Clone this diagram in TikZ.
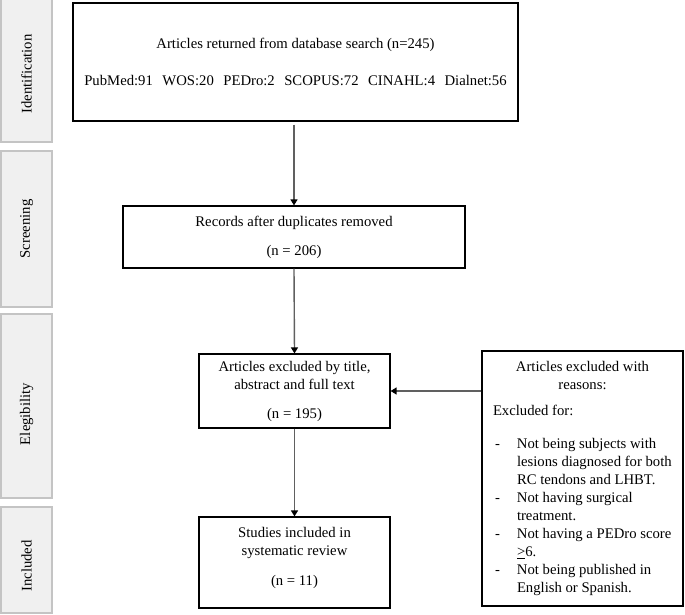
\documentclass[tikz,border=0pt]{standalone}
\usepackage{fontspec}
\setmainfont{Liberation Serif}
\usetikzlibrary{arrows.meta}
\definecolor{sidefill}{HTML}{F0F0F0}
\definecolor{sidedraw}{HTML}{C4C4C4}
\definecolor{arrowgray}{HTML}{606060}
\newcommand{\dashline}[1]{\hspace*{2pt}\makebox[22pt][l]{-}#1}
\newcommand{\contline}[1]{\hspace*{24pt}#1}
\newcommand{\gapsp}{\hspace{9.5pt}}
\begin{document}
\begin{tikzpicture}[x=1pt,y=-1pt,
  every node/.style={font=\fontsize{14.7}{18}\selectfont},
  sidebox/.style={draw=sidedraw, fill=sidefill, line width=1.5pt},
  sidelabel/.style={rotate=90, inner sep=0pt},
  flowbox/.style={draw=black, line width=1.2pt, align=center, inner sep=0pt},
  flowarrow/.style={draw=arrowgray, line width=1.4pt, -{Triangle[length=6pt,width=7pt,black]}}]
\useasboundingbox (0,0) rectangle (685,614);
% side phase boxes
\path[sidebox] (1,-5) rectangle (52,142);
\path[sidebox] (1,151) rectangle (52,307);
\path[sidebox] (1,314) rectangle (52,498);
\path[sidebox] (1,507) rectangle (52,613);
\node[sidelabel] (lident) at (26.5,74) {Identification};
\node[sidelabel] (lscreen) at (26.5,229) {Screening};
\node[sidelabel] (lelig) at (26.5,414) {Elegibility};
\node[sidelabel] (lincl) at (26.5,566) {Included};
% flow boxes
\node[flowbox, minimum width=445pt, minimum height=118pt] (search) at (295.5,62)
  {Articles returned from database search (n=245)\\[19pt]
   PubMed:91\gapsp WOS:20\gapsp PEDro:2\gapsp SCOPUS:72\gapsp CINAHL:4\gapsp Dialnet:56};
\node[flowbox, minimum width=342pt, minimum height=62pt] (records) at (294,237)
  {Records after duplicates removed\\[11pt](n = 206)};
\node[flowbox, minimum width=191pt, minimum height=74pt] (excluded) at (294.5,391)
  {Articles excluded by title,\\abstract and full text\\[11pt](n = 195)};
\node[flowbox, minimum width=191pt, minimum height=91pt] (included) at (294.5,562.5)
  {Studies included in\\systematic review\\[12pt](n = 11)\rule[-12pt]{0pt}{12pt}};
\node[draw=black, line width=1.2pt, minimum width=201pt, minimum height=255pt,
      align=left, inner sep=0pt] (reasons) at (582.5,478.5)
  {\makebox[179pt]{Articles excluded with}\\
   \makebox[179pt]{reasons:}\\[8pt]
   Excluded for:\\[15pt]
   \dashline{Not being subjects with}\\
   \contline{lesions diagnosed for both}\\
   \contline{RC tendons and LHBT.}\\
   \dashline{Not having surgical}\\
   \contline{treatment.}\\
   \dashline{Not having a PEDro score}\\
   \contline{\underline{>}6.}\\
   \dashline{Not being published in}\\
   \contline{English or Spanish.}};
% connectors
\draw[flowarrow, shorten <=3pt] (records.north |- search.south) -- (records.north);
\draw[flowarrow] (records.south) -- (excluded.north);
\draw[flowarrow] (excluded.south) -- (included.north);
\draw[flowarrow] (excluded.east -| reasons.west) -- (excluded.east);
\end{tikzpicture}
\end{document}
